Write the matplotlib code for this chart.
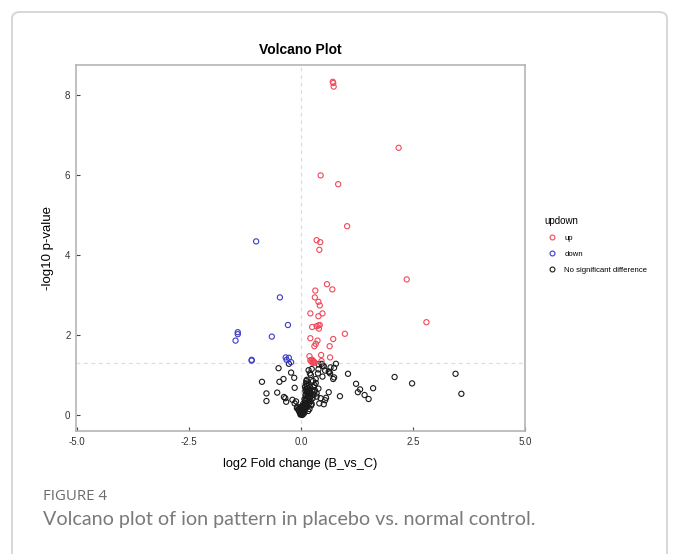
import numpy as np
import matplotlib.pyplot as plt
from matplotlib.patches import FancyBboxPatch
from matplotlib.lines import Line2D

plt.rcParams['font.family'] = ['Liberation Sans', 'DejaVu Sans']

# data: log2 fold change (x) and -log10 p-value (y) per group
up_x = [0.71, 0.72, 0.73, 2.18, 0.44, 0.83, 1.03, 0.35, 0.43, 0.41, 2.36, 0.58,
        0.70, 0.32, 0.31, 0.39, 0.42, 0.21, 0.48, 0.39, 0.25, 0.35, 0.39, 0.42,
        0.40, 2.80, 0.98, 0.21, 0.72, 0.37, 0.33, 0.30, 0.64, 0.45, 0.65, 0.19,
        0.21, 0.25, 0.27, 0.29, 0.31, 0.46, 0.28, 0.23, 0.26]
up_y = [8.33, 8.30, 8.21, 6.68, 5.99, 5.77, 4.72, 4.37, 4.32, 4.13, 3.39, 3.27,
        3.14, 3.11, 2.94, 2.83, 2.74, 2.54, 2.54, 2.47, 2.20, 2.22, 2.24, 2.25,
        2.16, 2.32, 2.03, 1.92, 1.90, 1.86, 1.78, 1.72, 1.72, 1.50, 1.44, 1.47,
        1.37, 1.38, 1.35, 1.33, 1.31, 1.35, 1.32, 1.34, 1.30]

down_x = [-1.00, -0.47, -0.29, -1.41, -1.41, -1.46, -0.65, -1.10, -1.10, -0.34,
          -0.27, -0.32, -0.22]
down_y = [4.34, 2.94, 2.25, 2.07, 2.02, 1.86, 1.96, 1.38, 1.36, 1.44,
          1.43, 1.38, 1.32]

ns_x = [-0.87, -0.77, -0.77, -0.50, -0.48, -0.39, -0.22, -0.15, -0.38, -0.35,
        -0.33, -0.53, -0.14, -0.19, -0.14, -0.11, -0.08, -0.27,
        0.17, 0.20, 0.22, 0.39, 0.46, 0.51, 0.62, 0.65, 0.78, 0.74, 0.48, 0.62,
        1.05, 1.23, 1.32, 1.27, 1.42, 1.51, 1.61, 2.09, 2.48, 3.45, 3.58, 0.87,
        0.54, 0.51, 0.41, 0.39, 0.35, 0.44, 0.72, 0.54, 0.38, 0.24, 0.48, 0.39,
        0.56, 0.66, 0.63, 0.74, 0.33, 0.28,
        0.00, 0.02, -0.02, 0.04, 0.01, -0.04, 0.06, 0.03, -0.06, 0.08, 0.05,
        0.10, -0.03, 0.07, 0.12, 0.02, 0.10, 0.14, 0.05, 0.12, 0.16, 0.09,
        0.13, 0.18, 0.11, 0.15, 0.20, 0.12, 0.16, 0.22, 0.13, 0.18, 0.25, 0.12,
        0.15, 0.20, 0.13, 0.17, 0.11, 0.14, 0.12, 0.10, 0.10, 0.09, 0.28, 0.30,
        0.26, 0.22, 0.19, 0.30, 0.27, 0.33, -0.01, 0.03, 0.06, 0.08, 0.04,
        -0.05, -0.09, 0.00, 0.16, 0.19, 0.23, 0.09, 0.07, 0.14, 0.18, 0.24,
        0.21, 0.15, 0.11, 0.08, 0.17, 0.13, 0.06, 0.20, 0.31, 0.35]
ns_y = [0.83, 0.54, 0.35, 1.17, 0.83, 0.90, 1.06, 0.93, 0.45, 0.42,
        0.33, 0.56, 0.68, 0.38, 0.29, 0.34, 0.21, 1.28,
        1.12, 1.04, 1.00, 1.14, 1.28, 1.22, 1.09, 1.04, 1.28, 1.18, 0.96, 0.57,
        1.03, 0.78, 0.64, 0.57, 0.50, 0.40, 0.67, 0.95, 0.79, 1.03, 0.53, 0.47,
        0.37, 0.27, 0.29, 0.66, 0.54, 0.42, 0.90, 1.11, 1.04, 1.15, 1.23, 1.27,
        0.43, 1.19, 1.07, 0.94, 0.80, 0.70,
        0.02, 0.04, 0.05, 0.06, 0.08, 0.09, 0.10, 0.12, 0.14, 0.13, 0.16,
        0.18, 0.18, 0.20, 0.22, 0.22, 0.26, 0.27, 0.28, 0.31, 0.33, 0.35,
        0.38, 0.40, 0.42, 0.45, 0.47, 0.49, 0.52, 0.55, 0.57, 0.60, 0.62, 0.64,
        0.67, 0.70, 0.73, 0.76, 0.78, 0.81, 0.85, 0.60, 0.50, 0.70, 0.50, 0.58,
        0.42, 0.35, 0.30, 0.75, 0.85, 0.90, 0.01, 0.00, 0.03, 0.07, 0.11,
        0.12, 0.17, 0.15, 0.10, 0.15, 0.24, 0.30, 0.25, 0.20, 0.36, 0.28,
        0.45, 0.55, 0.65, 0.40, 0.63, 0.88, 0.19, 0.52, 0.62, 0.46]

col_up = '#F04a5a'
col_down = '#3B3BC8'
col_ns = '#1a1a1a'

fig = plt.figure(figsize=(6.8, 5.54), dpi=100)

# outer rounded box like the journal figure panel
box = FancyBboxPatch((12/680, -0.05), 655/680, 1 - 12/554 + 0.05,
                     boxstyle='round,pad=0,rounding_size=0.012',
                     transform=fig.transFigure, fill=False,
                     edgecolor='#d4d4d4', linewidth=1.3)
fig.patches.append(box)

ax = fig.add_axes([76/680, 1 - 431/554, 449/680, 366/554])

kw = dict(s=14, facecolors='none', linewidths=0.8)
ax.scatter(ns_x, ns_y, edgecolors=col_ns, **kw)
ax.scatter(down_x, down_y, edgecolors=col_down, **kw)
ax.scatter(up_x, up_y, edgecolors=col_up, **kw)

ax.axhline(-np.log10(0.05), color='#dddddd', ls=(0, (3, 3)), lw=0.9, zorder=0)
ax.axvline(0, color='#dddddd', ls=(0, (3, 3)), lw=0.9, zorder=0)

ax.set_xlim(-5.02, 5.0)
ax.set_ylim(-0.4, 8.75)
ax.set_xticks([-5, -2.5, 0, 2.5, 5])
ax.set_xticklabels(['-5.0', '-2.5', '0.0', '2.5', '5.0'])
ax.set_yticks([0, 2, 4, 6, 8])
ax.tick_params(direction='in', length=3, width=0.8, color='#444444',
               labelsize=7, labelcolor='#333333', pad=4)
for sp in ax.spines.values():
    sp.set_color('#b5b5b5')
    sp.set_linewidth(1.2)

ax.set_title('Volcano Plot', fontsize=10, fontweight='bold', pad=8)
ax.set_xlabel('log2 Fold change (B_vs_C)', fontsize=9.2, labelpad=8)
ax.set_ylabel('-log10 p-value', fontsize=9.5, labelpad=8)

handles = [Line2D([], [], ls='none', marker='o', ms=3.5, mfc='none', mec=c, mew=0.8)
           for c in (col_up, col_down, col_ns)]
leg = fig.legend(handles, ['up', 'down', 'No significant difference'],
                 title='updown', loc='upper left',
                 bbox_to_anchor=(541/680, 1 - 213/554), frameon=False,
                 fontsize=5.6, title_fontsize=7, handletextpad=0.6,
                 labelspacing=1.1, borderaxespad=0)
leg._legend_box.align = 'left'

fig.text(43/680, 1 - 496/554, 'FIGURE 4', fontsize=10.8, color='#6b6b6b',
         family='Open Sans', va='center')
fig.text(43/680, 1 - 519/554,
         'Volcano plot of ion pattern in placebo vs. normal control.',
         fontsize=14.2, color='#7a7a7a', family='Lato', va='center')

fig.savefig('out.png', dpi=100)
